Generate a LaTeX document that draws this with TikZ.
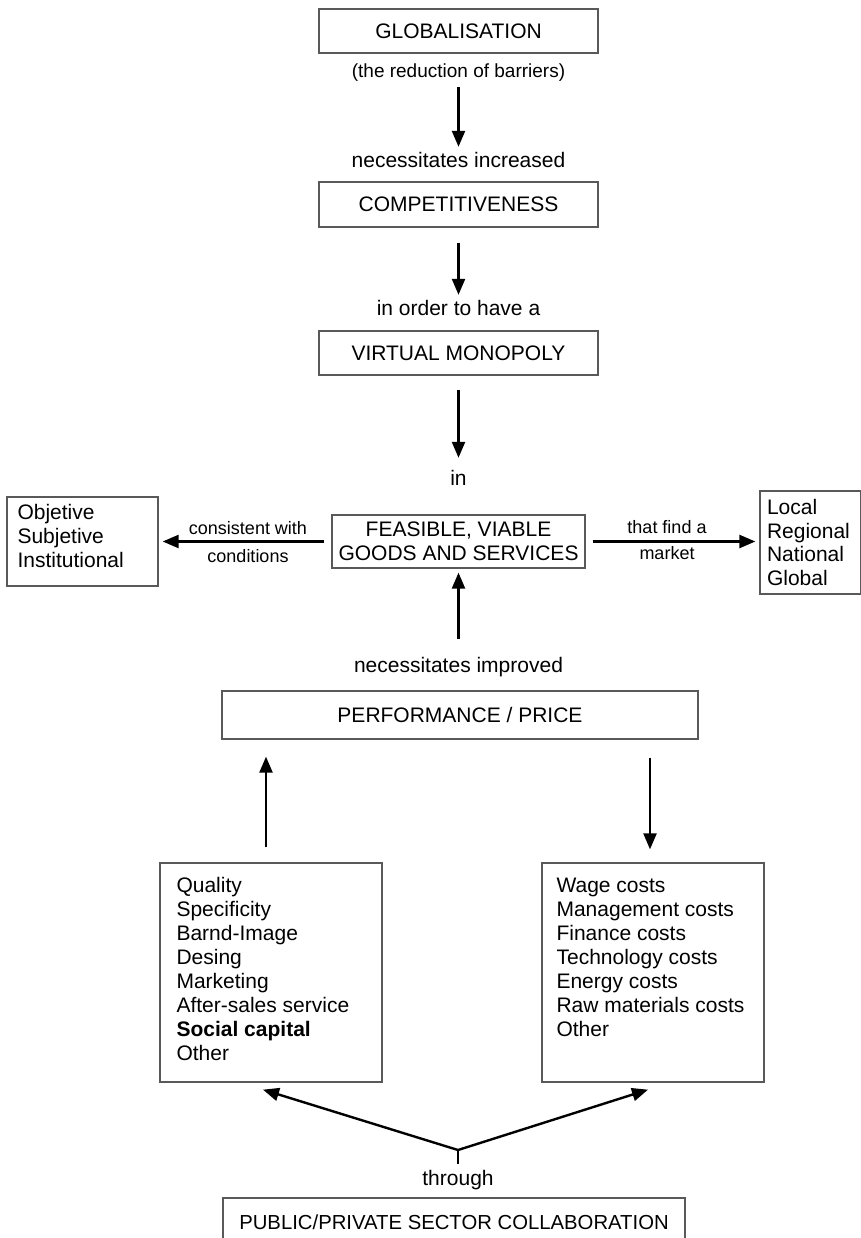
\documentclass[tikz,border=0pt]{standalone}
\usepackage{fontspec}
\setmainfont{Liberation Sans}
\usetikzlibrary{arrows.meta,positioning,calc}

\tikzset{
box/.style={draw=black!65,line width=1.3pt,inner sep=0pt,align=center,
font=\fontsize{21}{23.5}\selectfont},
lbl/.style={inner sep=0pt,text height=15pt,text depth=4pt,
font=\fontsize{21}{24}\selectfont},
side/.style={inner sep=0pt,align=center},
list/.style={inner sep=0pt,align=left,anchor=north west,
font=\fontsize{21}{24}\selectfont},
tip/.tip={Triangle[length=16pt,width=13pt]},
link/.style={line width=2.4pt,-tip}
}

\begin{document}
\begin{tikzpicture}[x=1pt,y=-1pt]
\useasboundingbox (0,0) rectangle (860,1238);

\node[box,minimum width=279pt,minimum height=44pt] (glob) at (458.5,31) {GLOBALISATION};
\node[lbl,font=\fontsize{19}{22}\selectfont] (sub) at (458.5,72) {(the reduction of barriers)};
\node[lbl] (incr) at (458.5,162) {necessitates increased};
\node[box,minimum width=279pt,minimum height=45pt] (comp) at (458.5,204.5) {COMPETITIVENESS};
\node[lbl] (have) at (458.5,310) {in order to have a};
\node[box,minimum width=279pt,minimum height=44pt] (mono) at (458.5,353) {VIRTUAL MONOPOLY};
\node[lbl] (in) at (458.5,480) {in};
\node[box,minimum width=253pt,minimum height=53pt] (feas) at (458.5,541.5) {FEASIBLE, VIABLE\\GOODS AND SERVICES};
\node[box,minimum width=151pt,minimum height=89pt] (cond) at (82.5,541.5) {};
\node[list] (condtxt) at ([xshift=11pt,yshift=-8pt]cond.north west)
{Objetive\\Subjetive\\Institutional};
\node[box,align=left,inner xsep=7pt,text width=87pt,minimum height=103pt,
font=\fontsize{21}{23.5}\selectfont] (mkt) at (810.5,542.5) {Local\\Regional\\National\\Global};
\node[side,font=\fontsize{18}{28}\selectfont] (cons) at (248,542) {consistent with\\conditions};
\node[side,font=\fontsize{18}{26}\selectfont] (find) at (667,540) {that find a\\market};
\node[lbl] (impr) at (458.5,667) {necessitates improved};
\node[box,minimum width=476pt,minimum height=48pt] (perf) at (460,715) {PERFORMANCE / PRICE};
\node[box,minimum width=222pt,minimum height=219pt] (qual) at (271,972.5) {};
\node[box,minimum width=222pt,minimum height=219pt] (cost) at (653,972.5) {};
\node[list] (qualtxt) at ([xshift=17pt,yshift=-14.5pt]qual.north west)
{Quality\\Specificity\\Barnd-Image\\Desing\\Marketing\\After-sales service\\\textbf{Social capital}\\Other};
\node[list] (costtxt) at ([xshift=15pt,yshift=-15pt]cost.north west)
{Wage costs\\Management costs\\Finance costs\\Technology costs\\Energy costs\\Raw materials costs\\Other};
\node[lbl] (thru) at (458,1180) {through};
\node[box,minimum width=462pt,minimum height=48pt,font=\fontsize{20.3}{23}\selectfont] (pub) at (454,1222)
{PUBLIC/PRIVATE SECTOR COLLABORATION};
\coordinate (fork) at (458,1150);

\draw[link,shorten <=5.5pt,shorten >=5.5pt] (sub.south) -- (incr.north);
\draw[link,shorten <=15pt,shorten >=5.5pt] (comp.south) -- (have.north);
\draw[link,shorten <=14pt,shorten >=12.5pt] (mono.south) -- (in.north);
\draw[link,shorten <=7pt,shorten >=4pt] (feas.west) -- (feas.west -| cond.east);
\draw[link,shorten <=7pt,shorten >=4pt] (feas.east) -- (feas.east -| mkt.west);
\draw[link,shorten <=18.5pt,shorten >=4pt] (impr.north) -- (feas.south);
\draw[link,shorten <=15pt,shorten >=17pt] ([xshift=-5pt]qual.north) -- ([xshift=-5pt]qual.north |- perf.south);
\draw[link,shorten <=18pt,shorten >=13pt] ([xshift=-3pt]cost.north |- perf.south) -- ([xshift=-3pt]cost.north);
\draw[line width=2.4pt,tip-tip]
([xshift=-8pt,yshift=-7pt]qual.south) -- (fork) -- ([xshift=-5pt,yshift=-7pt]cost.south);
\draw[line width=2.4pt,shorten >=6.5pt] (fork) -- (thru.north);
\end{tikzpicture}
\end{document}
